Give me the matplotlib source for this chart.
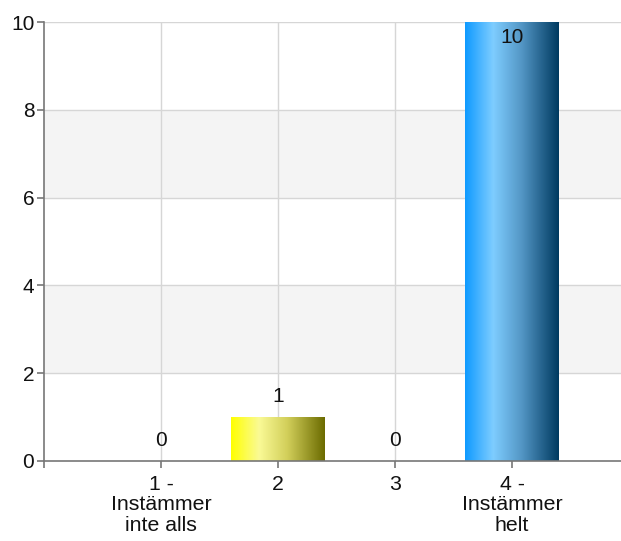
import matplotlib
matplotlib.use("Agg")
import matplotlib.pyplot as plt
import numpy as np
from matplotlib.colors import LinearSegmentedColormap

categories = ["1 -\nInstämmer\ninte alls", "2", "3", "4 -\nInstämmer\nhelt"]
values = [0, 1, 0, 10]
yticks = [0, 2, 4, 6, 8, 10]

grad_colors = [
    None,
    ["#ffff00", "#fafa96", "#d2cf5a", "#6b6b00"],
    None,
    ["#0e9aff", "#7ecdff", "#5497c6", "#003a60"],
]
grad_pos = [0.0, 0.3, 0.6, 1.0]

plt.rcParams['font.family'] = ['Liberation Sans', 'DejaVu Sans']

fig = plt.figure(figsize=(6.21, 5.41), dpi=100)
ax = fig.add_axes([44 / 621, 80 / 541, (621 - 44) / 621, (461 - 22) / 541])

x = np.arange(1, len(categories) + 1)
ax.set_xlim(0, 4.93)
ax.set_ylim(0, 10)

# background bands
for lo in (2, 6):
    ax.axhspan(lo, lo + 2, color="#f4f4f4", zorder=0, lw=0)
for yv in yticks[1:]:
    ax.axhline(yv, color="#d6d6d6", lw=1, zorder=0.5)
for xv in x:
    ax.axvline(xv, color="#d6d6d6", lw=1, zorder=0.5)

bars = ax.bar(x, values, width=0.8, color="none", edgecolor="none", zorder=2)
for bar, cols, v in zip(bars, grad_colors, values):
    if cols is not None and v > 0:
        cmap = LinearSegmentedColormap.from_list("g", list(zip(grad_pos, cols)))
        x0, w = bar.get_x(), bar.get_width()
        im = ax.imshow(np.linspace(0, 1, 256).reshape(1, -1), cmap=cmap,
                       extent=[x0, x0 + w, 0, bar.get_height()],
                       aspect="auto", zorder=2, interpolation="bilinear")
        im.set_clip_path(bar)
    # value labels
    off = -11 if v >= 9.5 else 15
    ax.annotate(str(v), (bar.get_x() + bar.get_width() / 2, v),
                xytext=(0, off), textcoords="offset points",
                ha="center", va="center", fontsize=15, color="#111111", zorder=3)

ax.set_xticks([0] + list(x))
ax.set_xticklabels([""] + categories, fontsize=15.3, linespacing=1.1)
ax.set_yticks(yticks)
ax.set_yticklabels([str(t) for t in yticks], fontsize=15)

for s in ("top", "right"):
    ax.spines[s].set_visible(False)
for s in ("left", "bottom"):
    ax.spines[s].set_color("#777777")
    ax.spines[s].set_linewidth(1.2)
    ax.spines[s].set_zorder(4)
ax.tick_params(axis="both", colors="#777777", length=5, width=1.2, labelcolor="#111111")
ax.tick_params(axis="x", pad=5)
ax.tick_params(axis="y", pad=2)

fig.savefig("out.png", dpi=100, facecolor="white")
